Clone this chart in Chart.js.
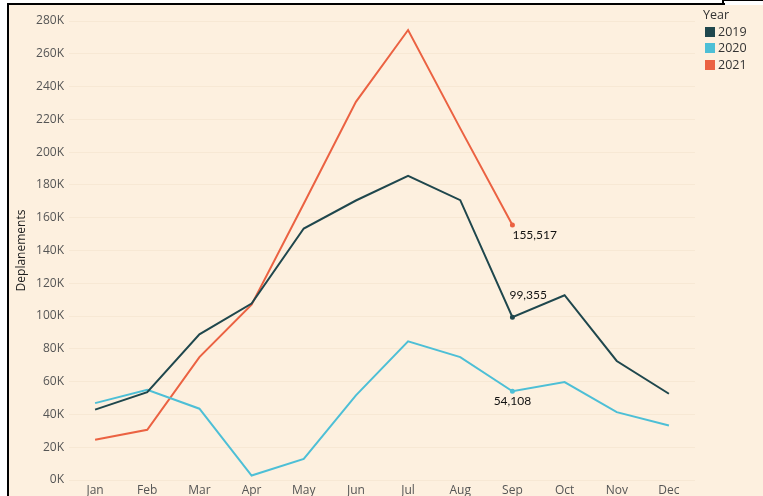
<!DOCTYPE html>
<html>
<head>
<meta charset="utf-8">
<script src="https://cdn.jsdelivr.net/npm/chart.js@4.4.1/dist/chart.umd.min.js"></script>
<style>
  html, body { margin: 0; padding: 0; width: 763px; height: 496px; overflow: hidden; background: #ffffff; }
  #bg { position: absolute; left: 9px; top: 5px; width: 754px; height: 491px; background: #FDF0DF; }
  #frame { position: absolute; left: 7px; top: 3px; width: 716px; height: 500px; border-left: 2px solid #000; border-top: 2px solid #000; }
  #tick1 { position: absolute; left: 722px; top: 0px; width: 2px; height: 5px; background: #000; }
  #tick2 { position: absolute; left: 722px; top: 0px; width: 41px; height: 1px; background: #000; }
  #wrap { position: absolute; left: 0; top: 0; width: 763px; height: 500px; }
  #legend { position: absolute; left: 703px; top: 7px; font-family: 'Open Sans', sans-serif; font-size: 12.5px; color: #333; line-height: 16.5px; }
  #legend .row { display: flex; align-items: center; }
  #legend .sw { width: 10px; height: 10px; margin-left: 2px; margin-right: 3px; }
</style>
</head>
<body>
<div id="bg"></div>
<div id="frame"></div>
<div id="tick1"></div>
<div id="tick2"></div>
<div id="wrap"><canvas id="c" width="763" height="500"></canvas></div>
<div id="legend"></div>
<script>
const months = ['Jan','Feb','Mar','Apr','May','Jun','Jul','Aug','Sep','Oct','Nov','Dec'];
const seriesNames = ['2019','2020','2021'];
const y2019 = [42900, 53600, 88900, 107600, 153400, 170500, 185500, 170700, 99355, 112700, 72600, 52600];
const y2020 = [46900, 55000, 43500, 2700, 12900, 51600, 84600, 75000, 54108, 59700, 41400, 33300];
const y2021 = [24500, 30600, 75000, 107000, 168500, 230700, 274500, 214500, 155517, null, null, null];
const colors = ['#1F474D', '#4DBFD6', '#EB6242'];
const yMin = 0, yMax = 280000, yStep = 20000;
const axisTitle = 'Deplanements';
const legendTitle = 'Year';
const labelled = [
  { series: 2, index: 8, align: 'left',   dx: 0,  dy: 10 },
  { series: 0, index: 8, align: 'left',   dx: -3, dy: -22 },
  { series: 1, index: 8, align: 'center', dx: 0,  dy: 10 }
];

// legend
const lg = document.getElementById('legend');
const t = document.createElement('div'); t.textContent = legendTitle; lg.appendChild(t);
seriesNames.forEach((n, i) => {
  const r = document.createElement('div'); r.className = 'row';
  const s = document.createElement('span'); s.className = 'sw'; s.style.background = colors[i];
  const tx = document.createElement('span'); tx.textContent = n;
  r.appendChild(s); r.appendChild(tx); lg.appendChild(r);
});

const dataLabelPlugin = {
  id: 'dataLabels',
  afterDatasetsDraw(chart) {
    const ctx = chart.ctx;
    ctx.save();
    ctx.font = '12px Lato, "Open Sans", sans-serif';
    ctx.fillStyle = '#111';
    ctx.textBaseline = 'middle';
    labelled.forEach(l => {
      const pt = chart.getDatasetMeta(l.series).data[l.index];
      const v = chart.data.datasets[l.series].data[l.index];
      ctx.textAlign = l.align;
      ctx.fillText(v.toLocaleString('en-US'), pt.x + l.dx, pt.y + l.dy);
    });
    ctx.restore();
  }
};

const ptRadius = ctx => (ctx.dataIndex === 8 ? 1.5 : 0);
const series = [y2019, y2020, y2021];

new Chart(document.getElementById('c'), {
  type: 'line',
  data: {
    labels: months,
    datasets: series.map((d, i) => ({
      label: seriesNames[i],
      data: d,
      borderColor: colors[i],
      backgroundColor: colors[i],
      borderWidth: 2,
      pointRadius: ptRadius,
      pointHoverRadius: 0,
      tension: 0,
      spanGaps: false
    }))
  },
  options: {
    responsive: false,
    animation: false,
    events: [],
    layout: { padding: { left: 10, top: 21, right: 68, bottom: 0 } },
    plugins: { legend: { display: false }, tooltip: { enabled: false } },
    scales: {
      x: {
        offset: true,
        grid: { display: false, drawTicks: false },
        border: { display: false },
        ticks: { color: '#555', padding: 3, font: { family: 'Open Sans', size: 12 } },
        afterFit(s) { s.height = 20; }
      },
      y: {
        min: yMin, max: yMax,
        grid: { color: '#F7E8D4', drawTicks: false, lineWidth: 1 },
        border: { display: false },
        ticks: {
          stepSize: yStep, color: '#555', padding: 5,
          font: { family: 'Open Sans', size: 12 },
          callback: v => (v / 1000) + 'K'
        },
        title: { display: true, text: axisTitle, color: '#222', padding: { top: 4, bottom: 0 }, font: { family: 'Open Sans', size: 12 } },
        afterFit(s) { s.width = 59; }
      }
    }
  },
  plugins: [dataLabelPlugin]
});
</script>
</body>
</html>
